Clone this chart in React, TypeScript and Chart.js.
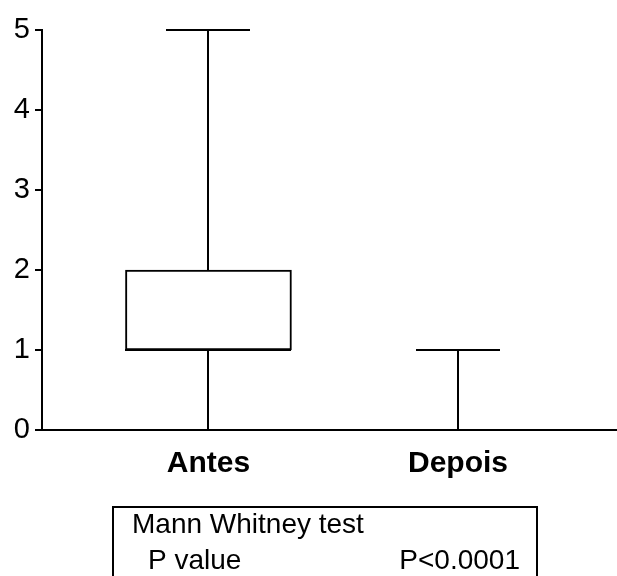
import React, { useEffect, useRef } from 'react';
import { Chart, registerables } from 'chart.js';

Chart.register(...registerables);

// ---- data ----
const categories = ['Antes', 'Depois'];
const positions = [1, 2];
const minValues = [0, 0];
const q1Values = [1, 0];
const medianValues = [1, 0];
const q3Values = [2, 0];
const maxValues = [5, 1];
const yTickValues = [0, 1, 2, 3, 4, 5];
const testTitle = 'Mann Whitney test';
const testRowLabels = ['P value'];
const testRowValues = ['P<0.0001'];

// ---- styles ----
const FONT = '"Liberation Sans", Arial, Helvetica, sans-serif';
const BOX_WIDTH = 166;
const CAP_WIDTH = 84;
const LINE = 2;

const whiskerPlugin = {
  id: 'whiskers',
  afterDatasetsDraw(chart: any) {
    const { ctx, scales } = chart;
    const x = scales.x;
    const y = scales.y;
    ctx.save();
    ctx.strokeStyle = '#000';
    ctx.lineWidth = LINE;
    ctx.lineCap = 'butt';
    positions.forEach((p, i) => {
      const cx = Math.round(x.getPixelForValue(p));
      const yMin = y.getPixelForValue(minValues[i]);
      const yQ1 = y.getPixelForValue(q1Values[i]);
      const yQ3 = y.getPixelForValue(q3Values[i]);
      const yMax = y.getPixelForValue(maxValues[i]);
      const yMed = y.getPixelForValue(medianValues[i]);
      ctx.beginPath();
      ctx.moveTo(cx, yMin);
      ctx.lineTo(cx, yQ1);
      ctx.moveTo(cx, yQ3);
      ctx.lineTo(cx, yMax);
      ctx.moveTo(cx - CAP_WIDTH / 2, yMax);
      ctx.lineTo(cx + CAP_WIDTH / 2, yMax);
      ctx.moveTo(cx - BOX_WIDTH / 2, yMed);
      ctx.lineTo(cx + BOX_WIDTH / 2, yMed);
      ctx.stroke();
    });
    ctx.restore();
  },
};

const tablePlugin = {
  id: 'statTable',
  afterDraw(chart: any) {
    const { ctx } = chart;
    ctx.save();
    ctx.strokeStyle = '#000';
    ctx.lineWidth = LINE;
    ctx.strokeRect(113, 507, 424, 120);
    ctx.fillStyle = '#000';
    ctx.font = `28px ${FONT}`;
    ctx.textBaseline = 'alphabetic';
    ctx.textAlign = 'left';
    ctx.fillText(testTitle, 132, 533);
    testRowLabels.forEach((lab, i) => {
      const base = 569 + i * 36;
      ctx.textAlign = 'left';
      ctx.fillText(lab, 148, base);
      ctx.textAlign = 'right';
      ctx.fillText(testRowValues[i], 520, base);
    });
    ctx.restore();
  },
};

export default function App() {
  const ref = useRef<HTMLCanvasElement>(null);
  useEffect(() => {
    if (!ref.current) return;
    const chart = new Chart(ref.current, {
      type: 'bar',
      data: {
        datasets: [
          {
            label: 'IQR',
            data: positions.map((p, i) => ({ x: p, y: [q1Values[i], q3Values[i]] })) as any,
            backgroundColor: '#fff',
            borderColor: '#000',
            borderWidth: LINE,
            borderSkipped: false,
            barThickness: BOX_WIDTH,
          },
        ],
      },
      options: {
        responsive: false,
        animation: false,
        layout: { padding: { top: 30, left: 0, right: 0, bottom: 0 } },
        plugins: {
          legend: { display: false },
          tooltip: { enabled: false },
          title: { display: false },
        },
        scales: {
          x: {
            type: 'linear',
            offset: false,
            min: 0.333,
            max: 2.637,
            afterBuildTicks: (scale: any) => {
              scale.ticks = positions.map((v) => ({ value: v }));
            },
            afterFit: (scale: any) => {
              scale.height = 146;
            },
            grid: { display: false, drawTicks: false, offset: false },
            border: { display: true, color: '#000', width: LINE },
            ticks: {
              autoSkip: false,
              maxRotation: 0,
              padding: 16,
              color: '#000',
              font: { family: FONT, size: 30, weight: 'bold' },
              callback: (value: any) => {
                const idx = positions.indexOf(Number(value));
                return idx >= 0 ? categories[idx] : '';
              },
            },
          },
          y: {
            type: 'linear',
            min: yTickValues[0],
            max: yTickValues[yTickValues.length - 1],
            afterBuildTicks: (scale: any) => {
              scale.ticks = yTickValues.map((v) => ({ value: v }));
            },
            afterFit: (scale: any) => {
              scale.width = 42;
            },
            grid: {
              display: true,
              drawOnChartArea: false,
              drawTicks: true,
              tickLength: 7,
              color: '#000',
              lineWidth: LINE,
            },
            border: { display: true, color: '#000', width: LINE },
            ticks: {
              padding: 5,
              color: '#000',
              font: { family: FONT, size: 29 },
            },
          },
        },
      },
      plugins: [whiskerPlugin, tablePlugin],
    });
    return () => chart.destroy();
  }, []);
  return (
    <div style={{ position: 'absolute', left: 0, top: 0, width: 617, height: 576, background: '#fff' }}>
      <canvas ref={ref} width={617} height={576} style={{ display: 'block' }} />
    </div>
  );
}
